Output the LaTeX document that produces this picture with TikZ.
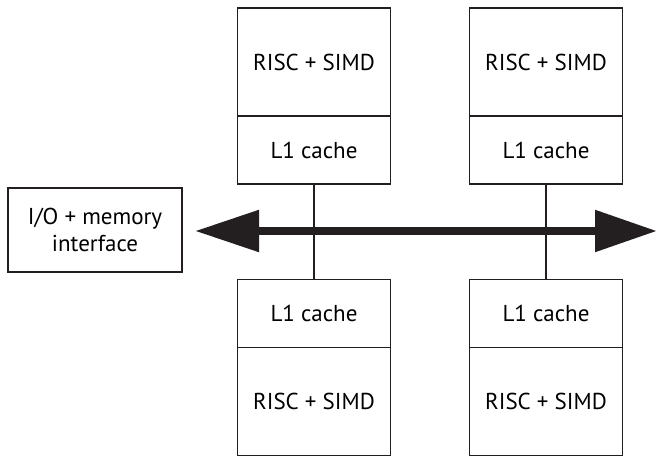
\documentclass[tikz,border=0pt]{standalone}
\usepackage{fontspec}
\setmainfont{PT Sans}
\usetikzlibrary{positioning,arrows.meta}
\definecolor{ink}{HTML}{231F20}
\tikzset{
  core/.style={draw=ink,line width=1.3pt,outer sep=0pt,inner sep=0pt,
    minimum width=153pt,minimum height=108pt},
  cache/.style={core,minimum height=68pt},
  link/.style={draw=ink,line width=1.3pt},
  bus/.style={ink,line width=8.5pt,
    {Triangle[length=64pt,width=40pt]}-{Triangle[length=62pt,width=40pt]}}
}
\begin{document}
\begin{tikzpicture}[x=1pt,y=-1pt,font=\fontsize{23}{27}\selectfont]
\useasboundingbox (0,0) rectangle (658,457);
% upper pair
\node[core] (riscA) at (314,62) {RISC + SIMD};
\node[cache,below=0pt of riscA] (cacheA) {L1 cache};
\node[core] (riscB) at (546,62) {RISC + SIMD};
\node[cache,below=0pt of riscB] (cacheB) {L1 cache};
% lower pair
\node[cache] (cacheC) at (314,313.5) {L1 cache};
\node[core,below=0pt of cacheC] (riscC) {RISC + SIMD};
\node[cache] (cacheD) at (546,313.5) {L1 cache};
\node[core,below=0pt of cacheD] (riscD) {RISC + SIMD};
% io
\node[core,minimum width=174pt,minimum height=84pt,align=center]
  (io) at (95,230) {I/O + memory\\interface};
% bus
\coordinate (busL) at (195,231);
\coordinate (busR) at (657,231);
\draw[bus] (busL) -- (busR);
\draw[link] (cacheA) -- (cacheC);
\draw[link] (cacheB) -- (cacheD);
\end{tikzpicture}
\end{document}
